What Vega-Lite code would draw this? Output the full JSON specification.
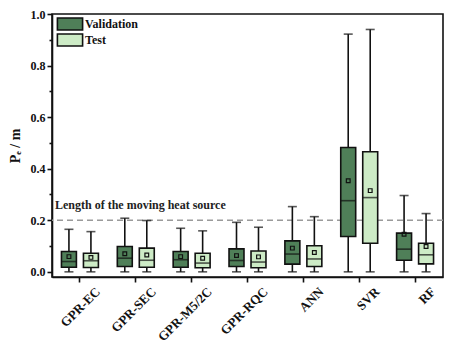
{
  "$schema": "https://vega.github.io/schema/vega-lite/v6.json",
  "autosize": "none",
  "padding": {"left": 52, "top": 14, "right": 10, "bottom": 70},
  "width": 391,
  "height": 263,
  "background": "white",
  "config": {
    "font": "Liberation Serif",
    "view": {"stroke": "#111", "strokeWidth": 1.6},
    "axis": {"labelFont": "Liberation Serif", "titleFont": "Liberation Serif", "labelFontWeight": "bold", "titleFontWeight": "bold", "labelColor": "#111", "titleColor": "#111", "domainColor": "#111", "tickColor": "#111", "grid": false, "domainWidth": 1.6, "tickWidth": 1.6}
  },
  "data": {"values": [
    {"model": "GPR-EC", "set": "Validation", "min": 0, "q1": 0.018, "median": 0.04, "q3": 0.079, "max": 0.165, "mean": 0.059},
    {"model": "GPR-EC", "set": "Test", "min": 0, "q1": 0.017, "median": 0.043, "q3": 0.072, "max": 0.156, "mean": 0.056},
    {"model": "GPR-SEC", "set": "Validation", "min": 0, "q1": 0.021, "median": 0.053, "q3": 0.098, "max": 0.208, "mean": 0.07},
    {"model": "GPR-SEC", "set": "Test", "min": 0, "q1": 0.018, "median": 0.045, "q3": 0.092, "max": 0.199, "mean": 0.065},
    {"model": "GPR-M5/2C", "set": "Validation", "min": 0, "q1": 0.018, "median": 0.047, "q3": 0.079, "max": 0.169, "mean": 0.059},
    {"model": "GPR-M5/2C", "set": "Test", "min": 0, "q1": 0.016, "median": 0.034, "q3": 0.072, "max": 0.159, "mean": 0.053},
    {"model": "GPR-RQC", "set": "Validation", "min": 0, "q1": 0.021, "median": 0.044, "q3": 0.089, "max": 0.192, "mean": 0.063},
    {"model": "GPR-RQC", "set": "Test", "min": 0, "q1": 0.016, "median": 0.038, "q3": 0.081, "max": 0.173, "mean": 0.058},
    {"model": "ANN", "set": "Validation", "min": 0, "q1": 0.03, "median": 0.069, "q3": 0.12, "max": 0.253, "mean": 0.092},
    {"model": "ANN", "set": "Test", "min": 0, "q1": 0.021, "median": 0.05, "q3": 0.101, "max": 0.214, "mean": 0.075},
    {"model": "SVR", "set": "Validation", "min": 0, "q1": 0.137, "median": 0.276, "q3": 0.482, "max": 0.922, "mean": 0.353},
    {"model": "SVR", "set": "Test", "min": 0, "q1": 0.111, "median": 0.288, "q3": 0.466, "max": 0.94, "mean": 0.315},
    {"model": "RF", "set": "Validation", "min": 0, "q1": 0.045, "median": 0.088, "q3": 0.15, "max": 0.296, "mean": 0.146},
    {"model": "RF", "set": "Test", "min": 0, "q1": 0.031, "median": 0.066, "q3": 0.111, "max": 0.226, "mean": 0.098}
  ]},
  "encoding": {
    "x": {"field": "model", "type": "nominal", "sort": null,
      "scale": {"paddingInner": 0, "paddingOuter": 0},
      "axis": {"title": null, "labelAngle": -45, "labelFontSize": 13, "tickSize": 5, "labelPadding": 3, "labelOffset": 14}},
    "xOffset": {"field": "set", "type": "nominal", "sort": ["Validation", "Test"],
      "scale": {"paddingInner": 0.32, "paddingOuter": 0.43}}
  },
  "layer": [
    {
      "data": {"values": [{"v": 0.2}]},
      "mark": {"type": "rule", "color": "#9a9a9a", "strokeDash": [6, 4], "strokeWidth": 1.3},
      "encoding": {"x": null, "xOffset": null, "y": {"field": "v", "type": "quantitative", "scale": {"domain": [-0.02, 1.0], "nice": false, "zero": false}, "axis": null}}
    },
    {
      "data": {"values": [{"model": "GPR-EC", "v": 0.2, "t": "Length of the moving heat source"}]},
      "mark": {"type": "text", "align": "left", "baseline": "middle", "dx": 3, "dy": -15, "fontSize": 12, "fontWeight": "bold", "font": "Liberation Serif", "color": "#222"},
      "encoding": {"xOffset": null, "x": {"field": "model", "type": "nominal", "bandPosition": 0}, "y": {"field": "v", "type": "quantitative", "axis": null}, "text": {"field": "t"}}
    },
    {
      "mark": {"type": "rule", "color": "#111", "strokeWidth": 1.6},
      "encoding": {
        "y": {"field": "min", "type": "quantitative", "axis": {"orient": "left", "values": [0.1, 0.3, 0.5, 0.7, 0.9], "labels": false, "tickSize": 3, "domain": false, "title": null}},
        "y2": {"field": "max"}
      }
    },
    {
      "mark": {"type": "tick", "color": "#111", "thickness": 1.6, "size": 9},
      "encoding": {"y": {"field": "max", "type": "quantitative", "axis": null}}
    },
    {
      "mark": {"type": "tick", "color": "#111", "thickness": 1.6, "size": 9},
      "encoding": {"y": {"field": "min", "type": "quantitative", "axis": null}}
    },
    {
      "mark": {"type": "bar", "stroke": "#111", "strokeWidth": 1.6},
      "encoding": {
        "y": {"field": "q1", "type": "quantitative", "axis": {"orient": "left", "title": "Pₑ / m", "titleFontSize": 14, "labelFontSize": 12, "values": [0, 0.2, 0.4, 0.6, 0.8, 1.0], "format": ".1f", "tickSize": 5, "titlePadding": 8, "labelFlush": false}},
        "y2": {"field": "q3"},
        "fill": {"field": "set", "type": "nominal", "sort": ["Validation", "Test"],
          "scale": {"domain": ["Validation", "Test"], "range": ["#4f7f58", "#cdebc6"]},
          "legend": {"title": null, "orient": "top-left", "offset": 4, "padding": 0, "labelFont": "Liberation Serif", "labelFontWeight": "bold", "labelFontSize": 12, "labelColor": "#111", "symbolType": "M-4.2,-2H4.2V2H-4.2Z", "symbolSize": 36, "symbolStrokeColor": "#111", "symbolStrokeWidth": 1.6, "symbolOffset": 8, "rowPadding": -5, "labelOffset": 9}}
      }
    },
    {
      "mark": {"type": "tick", "color": "#111", "thickness": 1.6, "size": 15},
      "encoding": {"y": {"field": "median", "type": "quantitative", "axis": null}}
    },
    {
      "mark": {"type": "point", "shape": "square", "size": 14, "filled": false, "stroke": "#111", "strokeWidth": 1.2, "opacity": 1},
      "encoding": {"y": {"field": "mean", "type": "quantitative", "axis": null}}
    }
  ],
  "resolve": {"axis": {"y": "independent"}}
}
